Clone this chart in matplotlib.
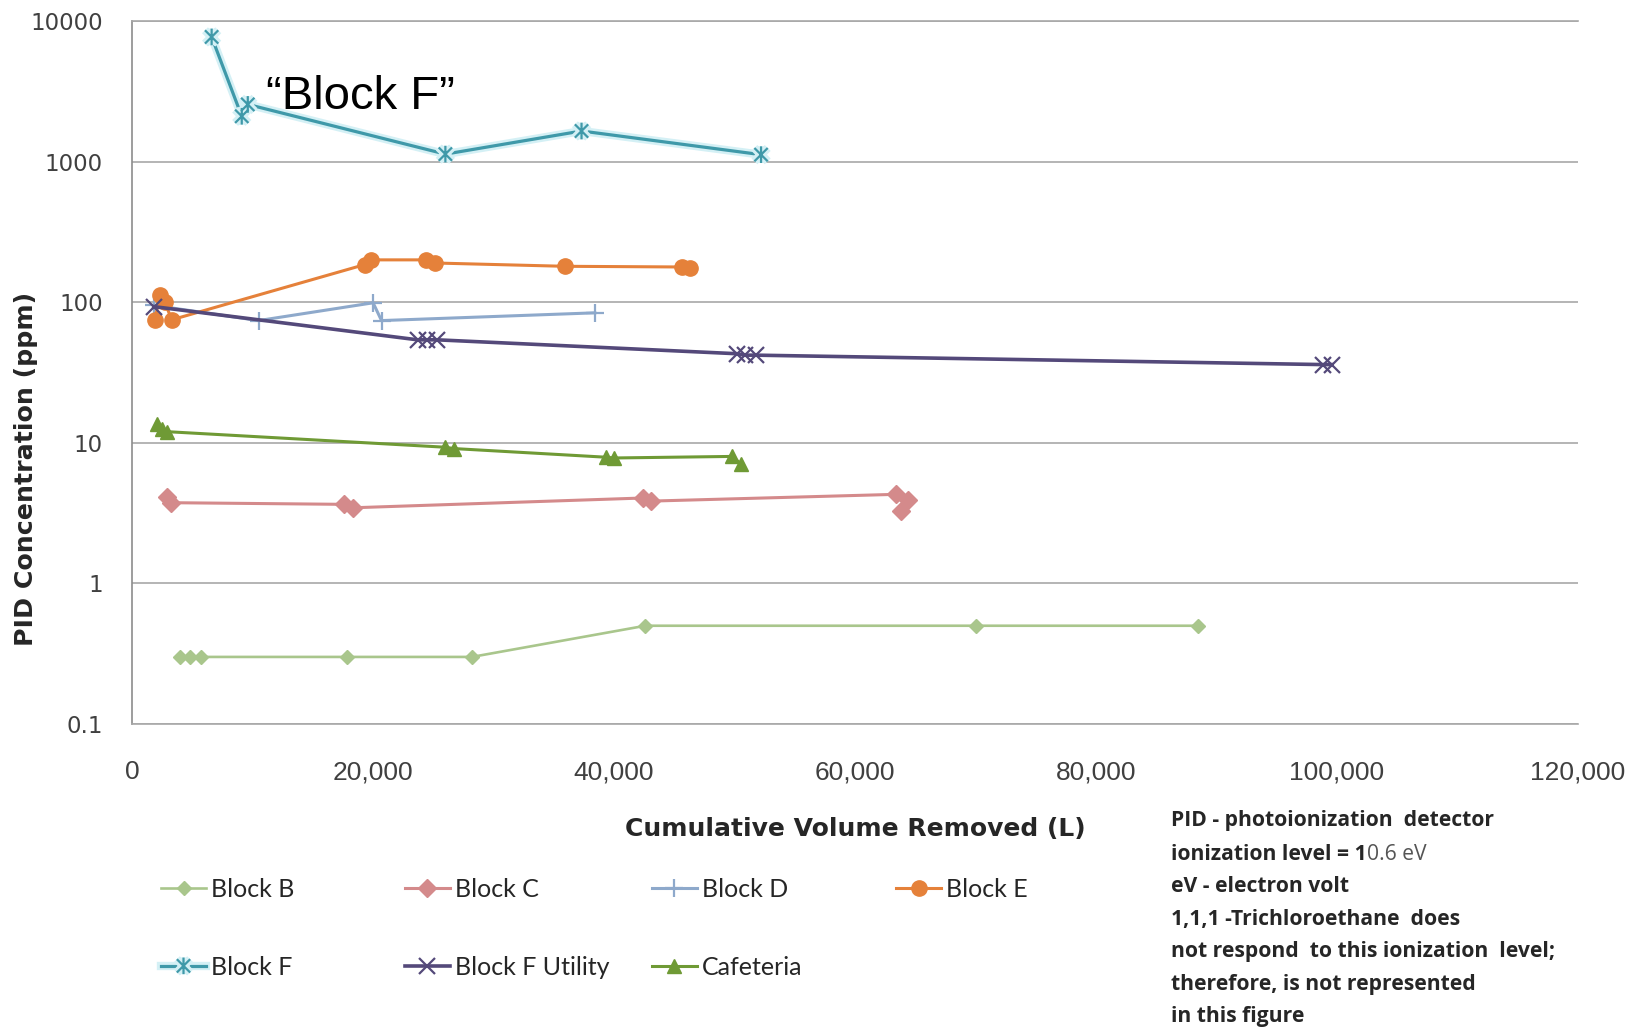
import matplotlib
matplotlib.use("Agg")
import matplotlib.pyplot as plt
from matplotlib.path import Path
from matplotlib import patheffects as pe

# Cumulative volume removed (L) and PID concentration (ppm) at each location
block_b_vol = [4000, 4800, 5700, 17800, 28200, 42600, 70000, 88500]
block_b_ppm = [0.3, 0.3, 0.3, 0.3, 0.3, 0.5, 0.5, 0.5]

block_c_vol = [2900, 3200, 17600, 18300, 42400, 43100, 63400, 64400, 63800]
block_c_ppm = [4.1, 3.75, 3.65, 3.45, 4.05, 3.85, 4.3, 3.9, 3.3]

block_d_vol = [1800, 10500, 20000, 20700, 38400]
block_d_ppm = [95, 74, 99, 74, 84]

block_e_vol = [1900, 2300, 2700, 3300, 19300, 19800, 24400, 25100, 35900, 45600, 46300]
block_e_ppm = [75, 112, 100, 75, 185, 200, 200, 190, 180, 178, 174]

block_f_vol = [6600, 9100, 9600, 26000, 37300, 52200]
block_f_ppm = [7700, 2100, 2550, 1130, 1650, 1120]

block_f_util_vol = [1800, 23700, 24500, 25300, 50200, 50900, 51800, 98800, 99600]
block_f_util_ppm = [93, 54, 54, 54, 43, 42, 42, 36, 36]

cafeteria_vol = [2100, 2500, 2900, 26000, 26700, 39300, 40000, 49800, 50500]
cafeteria_ppm = [13.5, 12.5, 12.0, 9.3, 9.1, 7.9, 7.8, 8.0, 7.1]

series_names = ["Block B", "Block C", "Block D", "Block E",
                "Block F", "Block F Utility", "Cafeteria"]

x_ticks = [0, 20000, 40000, 60000, 80000, 100000, 120000]
x_tick_labels = ["0", "20,000", "40,000", "60,000", "80,000", "100,000", "120,000"]
y_ticks = [0.1, 1, 10, 100, 1000, 10000]
y_tick_labels = ["0.1", "1", "10", "100", "1000", "10000"]

note_lines = [
    "PID - photoionization  detector",
    "ionization level = 1",
    "eV - electron volt",
    "1,1,1 -Trichloroethane  does",
    "not respond  to this ionization  level;",
    "therefore, is not represented",
    "in this figure",
]
note_tail = "0.6 eV"

# six-armed star marker: an "x" crossed by a vertical bar
star = Path([(-1, -1), (1, 1), (-1, 1), (1, -1), (0, -1.25), (0, 1.25)],
            [Path.MOVETO, Path.LINETO, Path.MOVETO, Path.LINETO,
             Path.MOVETO, Path.LINETO])

styles = {
    "Block B": dict(color="#A9C68C", marker="D", ms=7, lw=1.9),
    "Block C": dict(color="#D48A8B", marker="D", ms=9, lw=2.2),
    "Block D": dict(color="#8EA9CB", marker="+", ms=13, mew=1.6, lw=2.2),
    "Block E": dict(color="#E5813A", marker="o", ms=11, lw=2.2),
    "Block F": dict(color="#3F99A9", marker=star, ms=12, mew=1.6, lw=2.3,
                    path_effects=[pe.Stroke(linewidth=6, foreground="#D4F0F5"),
                                  pe.Normal()]),
    "Block F Utility": dict(color="#54497A", marker="x", ms=11, mew=1.6, lw=2.6),
    "Cafeteria": dict(color="#6F9A35", marker="^", ms=10, lw=2.2),
}

data = {
    "Block B": (block_b_vol, block_b_ppm),
    "Block C": (block_c_vol, block_c_ppm),
    "Block D": (block_d_vol, block_d_ppm),
    "Block E": (block_e_vol, block_e_ppm),
    "Block F": (block_f_vol, block_f_ppm),
    "Block F Utility": (block_f_util_vol, block_f_util_ppm),
    "Cafeteria": (cafeteria_vol, cafeteria_ppm),
}

fig = plt.figure(figsize=(16.33, 10.28), dpi=100)
ax = fig.add_axes([0.0809, 0.2957, 0.8854, 0.6839])

handles = {}
for name in series_names:
    vol, ppm = data[name]
    (h,) = ax.plot(vol, ppm, label=name, zorder=3, **styles[name])
    handles[name] = h

ax.set_yscale("log")
ax.set_xlim(x_ticks[0], x_ticks[-1])
ax.set_ylim(y_ticks[0], y_ticks[-1])
ax.set_xticks(x_ticks)
ax.set_xticklabels(x_tick_labels, fontfamily="Liberation Sans", fontsize=19,
                   color="#404040")
ax.set_yticks(y_ticks)
ax.set_yticklabels(y_tick_labels, fontfamily="DejaVu Sans", fontsize=16.5,
                   color="#404040")
ax.minorticks_off()
ax.tick_params(axis="x", length=0, pad=26)
ax.tick_params(axis="y", length=0, pad=21)

ax.set_axisbelow(True)
ax.yaxis.grid(True, color="#A8A8A8", lw=1.2)
for side in ("top", "bottom"):
    ax.spines[side].set_color("#A8A8A8")
    ax.spines[side].set_linewidth(1.2)
ax.spines["right"].set_visible(False)
ax.spines["left"].set_color("#8C8C8C")
ax.spines["left"].set_linewidth(1.2)

ax.set_xlabel("Cumulative Volume Removed (L)", fontfamily="DejaVu Sans",
              fontweight="bold", fontsize=18, color="#262626", va="center")
ax.xaxis.set_label_coords(0.5, -0.149)
ax.set_ylabel("PID Concentration (ppm)", fontfamily="DejaVu Sans",
              fontweight="bold", fontsize=18.2, color="#262626", va="center")
ax.yaxis.set_label_coords(-0.0733, 0.363)

ax.text(11090, 2350, "\u201cBlock F\u201d", fontfamily="Liberation Sans",
        fontsize=34, color="black", ha="left", va="baseline")

# legend laid out in four evenly spaced columns
columns = [["Block B", "Block F"], ["Block C", "Block F Utility"],
           ["Block D", "Cafeteria"], ["Block E"]]
col_x = [0.0986, 0.248, 0.399, 0.5487]
for names, cx in zip(columns, col_x):
    leg = fig.legend([handles[n] for n in names], names,
                     loc="upper left", bbox_to_anchor=(cx, 0.1463),
                     frameon=False, borderpad=0, borderaxespad=0,
                     handlelength=1.8, handletextpad=0.2, labelspacing=2.2,
                     prop=dict(family="Lato", size=18))
    for t in leg.get_texts():
        t.set_color("#262626")

note_x = 1171 / 1633
note_y = [820.7, 854.0, 886.3, 919.6, 952.0, 984.2, 1016.5]
note_texts = []
for line, yp in zip(note_lines, note_y):
    t = fig.text(note_x, 1 - yp / 1028, line, fontfamily="Open Sans",
                 fontweight="bold", fontsize=15.2, color="#262626",
                 ha="left", va="center")
    note_texts.append(t)
ax.annotate(note_tail, xy=(1, 0), xycoords=note_texts[1], va="bottom",
            ha="left", fontfamily="Open Sans", fontsize=15.2, color="#555555",
            annotation_clip=False)

fig.savefig("out.png", dpi=100, facecolor="white")
